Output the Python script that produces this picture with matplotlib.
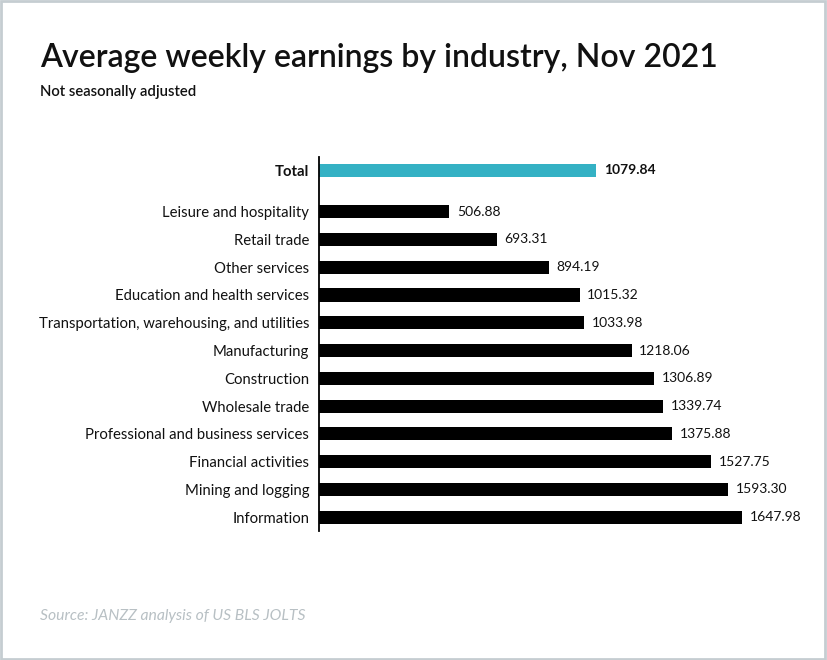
import matplotlib
matplotlib.use("Agg")
import matplotlib.pyplot as plt
from matplotlib.patches import Rectangle

plt.rcParams['font.family'] = ['Lato', 'DejaVu Sans']

categories = ["Total", "Leisure and hospitality", "Retail trade", "Other services",
              "Education and health services", "Transportation, warehousing, and utilities",
              "Manufacturing", "Construction", "Wholesale trade",
              "Professional and business services", "Financial activities",
              "Mining and logging", "Information"]
values = [1079.84, 506.88, 693.31, 894.19, 1015.32, 1033.98, 1218.06, 1306.89,
          1339.74, 1375.88, 1527.75, 1593.30, 1647.98]
value_labels = ["1079.84", "506.88", "693.31", "894.19", "1015.32", "1033.98", "1218.06",
                "1306.89", "1339.74", "1375.88", "1527.75", "1593.30", "1647.98"]

fig = plt.figure(figsize=(8.27, 6.6), dpi=100)
ax = fig.add_axes([319/827, 129/660, 462/827, 374/660])

positions = [0] + [i + 0.5 for i in range(1, len(categories))]
colors = ["#34b1c4"] + ["#000000"] * (len(categories) - 1)

ax.barh(positions, values, height=0.47, color=colors)
for p, v, lab, i in zip(positions, values, value_labels, range(len(values))):
    ax.text(v + 30, p, lab, va='center', ha='left', fontsize=10,
            fontweight='bold' if i == 0 else 'normal', color='#111111')

ax.set_yticks(positions)
ax.set_yticklabels(categories, fontsize=10.7, color='#111111')
ax.get_yticklabels()[0].set_fontweight('bold')
ax.tick_params(axis='y', length=0, pad=7)
ax.set_xticks([])
ax.set_xlim(0, 1800)
ax.set_ylim(13.0, -0.47)
for s in ['top', 'right', 'bottom']:
    ax.spines[s].set_visible(False)
ax.spines['left'].set_linewidth(1.3)
ax.spines['left'].set_color('#000000')

fig.text(40/827, 1 - 58/660, "Average weekly earnings by industry, Nov 2021",
         fontsize=23, fontweight='semibold', ha='left', va='center', color='#111111')
fig.text(40/827, 1 - 92/660, "Not seasonally adjusted",
         fontsize=10.7, fontweight='semibold', ha='left', va='center', color='#111111')
fig.text(40/827, 1 - 616/660, "Source: JANZZ analysis of US BLS JOLTS",
         fontsize=11.3, style='italic', ha='left', va='center', color='#b8c0c4')

fig.patches.append(Rectangle((0.001, 0.002), 0.997, 0.996, transform=fig.transFigure,
                             fill=False, edgecolor='#c5cdd1', linewidth=2))

fig.savefig("out.png", dpi=100)
